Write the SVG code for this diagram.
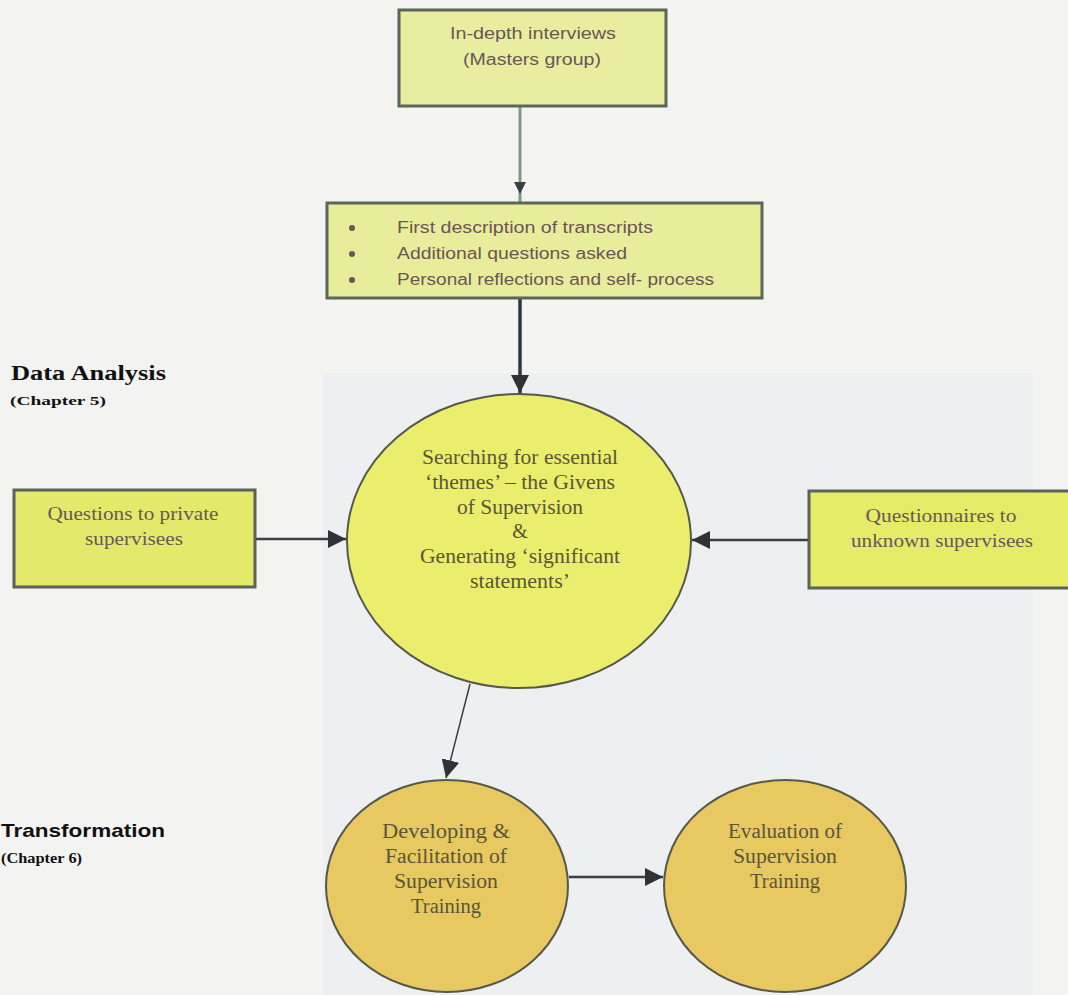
<svg xmlns="http://www.w3.org/2000/svg" width="1068" height="995" viewBox="0 0 1068 995">
<defs>
<style>
.box{stroke:#5b6658;stroke-width:3}
.ell{stroke:#55584a;stroke-width:2}
.bt{font-family:"Liberation Sans",Arial,sans-serif;font-size:16px;fill:#6a5656}
.st{font-family:"Liberation Serif","Times New Roman",serif;font-size:18px;fill:#6a5858;text-anchor:middle}
.et{font-family:"Liberation Serif","Times New Roman",serif;font-size:20px;fill:#5a5638;text-anchor:middle}
.lab{font-family:"Liberation Serif","Times New Roman",serif;font-weight:bold;fill:#111}
.conn{fill:none;stroke:#3a3f42;stroke-width:2.5}
</style>
<marker id="ahs" viewBox="0 0 10 10" refX="10" refY="5" markerWidth="18" markerHeight="18" markerUnits="userSpaceOnUse" orient="auto">
<path d="M0,0 L10,5 L0,10 z" fill="#2e3336"/>
</marker>
</defs>
<rect x="0" y="0" width="1068" height="995" fill="#f3f4f2"/>
<rect x="323" y="373" width="710" height="622" fill="#edeff0"/>

<g id="connectors">
<line x1="520" y1="107" x2="520" y2="202" stroke="#7d9a86" stroke-width="3"/>
<path d="M514,182 L526,182 L520,194 z" fill="#3a4040"/>
<line x1="520" y1="299" x2="520" y2="393" stroke="#2c3a40" stroke-width="3.5" marker-end="url(#ahs)"/>
<line x1="255" y1="539" x2="346" y2="539" class="conn" marker-end="url(#ahs)"/>
<line x1="809" y1="540" x2="692" y2="540" class="conn" marker-end="url(#ahs)"/>
<line x1="470" y1="684" x2="446" y2="778" stroke="#3a3f42" stroke-width="1.5" marker-end="url(#ahs)"/>
<line x1="569" y1="877" x2="663" y2="877" class="conn" marker-end="url(#ahs)"/>
</g>

<g id="node-interviews">
<rect x="399" y="10" width="267" height="96" fill="#e8eda0" class="box"/>
<text class="bt" x="533" y="39" text-anchor="middle" textLength="166" lengthAdjust="spacingAndGlyphs">In-depth interviews</text>
<text class="bt" x="532" y="65" text-anchor="middle" textLength="138" lengthAdjust="spacingAndGlyphs">(Masters group)</text>
</g>

<g id="node-description">
<rect x="327" y="203" width="435" height="95" fill="#e8ed9c" class="box"/>
<circle cx="352" cy="228" r="3" fill="#6a5656"/>
<circle cx="352" cy="254" r="3" fill="#6a5656"/>
<circle cx="352" cy="280" r="3" fill="#6a5656"/>
<text class="bt" x="397" y="233" textLength="256" lengthAdjust="spacingAndGlyphs">First description of transcripts</text>
<text class="bt" x="397" y="259" textLength="230" lengthAdjust="spacingAndGlyphs">Additional questions asked</text>
<text class="bt" x="397" y="285" textLength="317" lengthAdjust="spacingAndGlyphs">Personal reflections and self- process</text>
</g>

<g id="label-data-analysis">
<text class="lab" x="11" y="380" font-size="20" textLength="155" lengthAdjust="spacingAndGlyphs">Data Analysis</text>
<text class="lab" x="10" y="405" font-size="13" textLength="96" lengthAdjust="spacingAndGlyphs">(Chapter 5)</text>
</g>

<g id="node-private">
<rect x="14" y="490" width="241" height="97" fill="#e3e96a" stroke="#5e605a" stroke-width="3"/>
<text class="st" x="133" y="520" textLength="171" lengthAdjust="spacingAndGlyphs">Questions to private</text>
<text class="st" x="134" y="545" textLength="98" lengthAdjust="spacingAndGlyphs">supervisees</text>
</g>

<g id="node-unknown">
<rect x="809" y="491" width="270" height="97" fill="#e4ec68" stroke="#5e605a" stroke-width="3"/>
<text class="st" x="941" y="522" textLength="151" lengthAdjust="spacingAndGlyphs">Questionnaires to</text>
<text class="st" x="942" y="547" textLength="182" lengthAdjust="spacingAndGlyphs">unknown supervisees</text>
</g>

<g id="node-searching">
<ellipse cx="519" cy="541" rx="172" ry="147" fill="#eaee6c" class="ell"/>
<text class="et" x="520" y="464" textLength="196" lengthAdjust="spacingAndGlyphs">Searching for essential</text>
<text class="et" x="520" y="489" textLength="190" lengthAdjust="spacingAndGlyphs">‘themes’ – the Givens</text>
<text class="et" x="520" y="514" textLength="126" lengthAdjust="spacingAndGlyphs">of Supervision</text>
<text class="et" x="520" y="538">&amp;</text>
<text class="et" x="520" y="563" textLength="200" lengthAdjust="spacingAndGlyphs">Generating ‘significant</text>
<text class="et" x="520" y="588" textLength="100" lengthAdjust="spacingAndGlyphs">statements’</text>
</g>

<g id="label-transformation">
<text x="1" y="837" font-family="'Liberation Sans',Arial,sans-serif" font-weight="bold" font-size="19" fill="#111" textLength="164" lengthAdjust="spacingAndGlyphs">Transformation</text>
<text x="1" y="863" font-family="'Liberation Serif','Times New Roman',serif" font-weight="bold" font-size="14" fill="#111" textLength="81" lengthAdjust="spacingAndGlyphs">(Chapter 6)</text>
</g>

<g id="node-developing">
<ellipse cx="447" cy="886" rx="121" ry="106" fill="#e8c860" class="ell"/>
<text class="et" x="446" y="838" textLength="128" lengthAdjust="spacingAndGlyphs">Developing  &amp;</text>
<text class="et" x="446" y="863" textLength="122" lengthAdjust="spacingAndGlyphs">Facilitation of</text>
<text class="et" x="446" y="888" textLength="104" lengthAdjust="spacingAndGlyphs">Supervision</text>
<text class="et" x="446" y="913" textLength="70" lengthAdjust="spacingAndGlyphs">Training</text>
</g>

<g id="node-evaluation">
<ellipse cx="785" cy="886" rx="121" ry="106" fill="#e8c860" class="ell"/>
<text class="et" x="785" y="838" textLength="114" lengthAdjust="spacingAndGlyphs">Evaluation of</text>
<text class="et" x="785" y="863" textLength="104" lengthAdjust="spacingAndGlyphs">Supervision</text>
<text class="et" x="785" y="888" textLength="70" lengthAdjust="spacingAndGlyphs">Training</text>
</g>
</svg>
